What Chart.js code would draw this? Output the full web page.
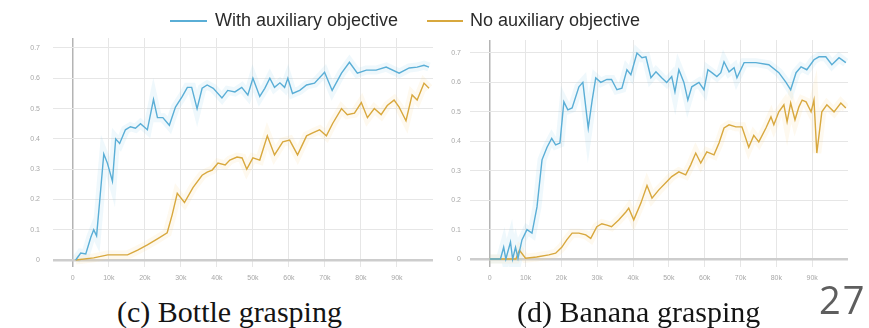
<!DOCTYPE html>
<html>
<head>
<meta charset="utf-8">
<script src="https://cdn.jsdelivr.net/npm/chart.js@4/dist/chart.umd.min.js"></script>
<style>
  html, body { margin: 0; padding: 0; background: #ffffff; }
  #page { position: relative; width: 869px; height: 328px; overflow: hidden; background: #fff; }
  canvas { position: absolute; }
  .legend-line { position: absolute; height: 2px; }
  .legend-text { position: absolute; font-family: "Liberation Sans", Arial, sans-serif; font-size: 18px; color: #2b2b2b; line-height: 18px; white-space: nowrap; }
  .caption { position: absolute; font-family: "Liberation Serif", "Times New Roman", serif; font-size: 30px; color: #141414; line-height: 30px; white-space: nowrap; }
  #pageno { position: absolute; font-family: "Open Sans", "Liberation Sans", sans-serif; font-weight: 400; font-size: 38px; letter-spacing: 2px; color: #5e5e5e; line-height: 38px; }
</style>
</head>
<body>
<div id="page">
  <canvas id="bottle" width="440" height="290" style="left:0;top:0;"></canvas>
  <canvas id="banana" width="429" height="290" style="left:440px;top:0;"></canvas>

  <div class="legend-line" style="left:170px;top:20px;width:37px;background:#5aaed6;"></div>
  <div class="legend-text" style="left:215px;top:11px;">With auxiliary objective</div>
  <div class="legend-line" style="left:427px;top:20px;width:36px;background:#d8a83e;"></div>
  <div class="legend-text" style="left:470px;top:11px;">No auxiliary objective</div>

  <div class="caption" style="left:117px;top:297px;">(c) Bottle grasping</div>
  <div class="caption" style="left:517px;top:297px;">(d) Banana grasping</div>
  <div id="pageno" style="left:819px;top:280px;">27</div>
</div>

<script>
// Training steps (thousands) and success rate, bottle grasping
const bottleStepsAux = [0.8, 2.2, 3.6, 5, 5.8, 6.6, 7.5, 8.6, 9.6, 11, 11.9, 13, 14.6, 16, 17.4, 18.8, 20.7, 22.4, 23.5, 25, 26.8, 28.5, 30.4, 31.8, 33, 34.5, 35.9, 37.3, 39, 41.4, 43, 45, 46.9, 48.6, 50, 51.9, 53.3, 54.7, 56, 57.5, 58.8, 59.7, 61, 63, 64.9, 67.1, 69.9, 72, 74.6, 76.8, 79, 81.5, 84.2, 87, 90.6, 93.4, 95.6, 97.5, 98.9];
const bottleAux = [0, 0.023, 0.02, 0.075, 0.1, 0.08, 0.2, 0.35, 0.32, 0.26, 0.40, 0.385, 0.43, 0.44, 0.435, 0.45, 0.43, 0.53, 0.47, 0.47, 0.445, 0.505, 0.54, 0.57, 0.57, 0.50, 0.567, 0.578, 0.567, 0.535, 0.56, 0.555, 0.57, 0.545, 0.60, 0.54, 0.567, 0.60, 0.57, 0.585, 0.57, 0.60, 0.55, 0.56, 0.578, 0.584, 0.62, 0.56, 0.617, 0.653, 0.617, 0.627, 0.627, 0.637, 0.617, 0.634, 0.637, 0.643, 0.637];

const bottleStepsNoAux = [0.8, 5.8, 9.7, 15.2, 18, 20.7, 23.5, 26.2, 27.6, 29, 31, 33.4, 35.9, 37.3, 38.7, 40.3, 42.3, 43.6, 45.6, 47, 48.3, 50, 51.9, 54, 56, 58.3, 60.2, 62.4, 64.9, 66.6, 68.5, 70.4, 72.1, 74.6, 76.2, 78.2, 80.1, 81.8, 83.7, 85.6, 87.3, 89.2, 90.6, 92.5, 94.2, 95.6, 97.5, 98.9];
const bottleNoAux = [0, 0.007, 0.017, 0.017, 0.033, 0.05, 0.07, 0.09, 0.15, 0.22, 0.19, 0.24, 0.28, 0.29, 0.297, 0.32, 0.314, 0.33, 0.34, 0.337, 0.30, 0.337, 0.33, 0.41, 0.347, 0.39, 0.396, 0.347, 0.41, 0.42, 0.43, 0.41, 0.45, 0.50, 0.48, 0.485, 0.52, 0.47, 0.50, 0.48, 0.51, 0.528, 0.505, 0.46, 0.545, 0.528, 0.584, 0.567];

// Training steps (thousands) and success rate, banana grasping
const bananaStepsAux = [0, 3, 3.9, 4.5, 5.8, 6.4, 7.2, 7.9, 9, 10.4, 11.8, 13.2, 14.6, 16, 17.3, 18.4, 19.6, 20.7, 21.8, 23, 24.9, 26, 27.5, 28.6, 29.6, 31, 32.7, 34, 35.5, 36.9, 38.3, 39.4, 41.1, 42.5, 43.6, 45, 46.4, 48, 49.4, 50.8, 51.7, 52.8, 54.2, 55.3, 56.4, 58.4, 59.8, 60.9, 62, 63.4, 64.5, 65.4, 66.8, 68.2, 69, 71, 74.3, 77.9, 80.7, 82.7, 84, 85.5, 86.9, 88.5, 90.5, 91.9, 93.8, 95.5, 97.5, 99.4];
const bananaAux = [0, 0, 0.04, 0, 0.058, 0, 0.04, 0.003, 0.065, 0.1, 0.088, 0.177, 0.337, 0.38, 0.41, 0.388, 0.394, 0.534, 0.507, 0.513, 0.585, 0.6, 0.445, 0.54, 0.615, 0.60, 0.61, 0.61, 0.575, 0.58, 0.643, 0.626, 0.70, 0.684, 0.687, 0.616, 0.636, 0.616, 0.60, 0.62, 0.568, 0.643, 0.60, 0.54, 0.585, 0.60, 0.575, 0.643, 0.633, 0.62, 0.633, 0.67, 0.636, 0.65, 0.616, 0.667, 0.667, 0.66, 0.633, 0.60, 0.575, 0.633, 0.653, 0.643, 0.677, 0.687, 0.687, 0.66, 0.684, 0.667];

const bananaStepsNoAux = [0, 7.3, 8.3, 10, 13.1, 16.5, 18.4, 20.1, 21.5, 23, 24.9, 26.8, 28.2, 29.9, 31.3, 32.7, 34, 36, 38, 38.8, 40.2, 42.2, 43.9, 45.3, 47.2, 49.2, 50.8, 52.8, 54.7, 56.1, 57.5, 58.9, 60.6, 62.6, 64, 65.4, 66.8, 68.7, 70.4, 72.3, 73.7, 75.1, 77.1, 78.5, 79.3, 80.7, 82.1, 83, 84, 85.2, 86.3, 87.2, 88.3, 89.7, 90.5, 91.3, 92.7, 94.1, 96.1, 98, 99.4];
const bananaNoAux = [0, 0, 0.03, 0.003, 0.007, 0.014, 0.02, 0.04, 0.065, 0.088, 0.088, 0.082, 0.07, 0.11, 0.12, 0.115, 0.11, 0.133, 0.16, 0.173, 0.133, 0.19, 0.25, 0.207, 0.235, 0.26, 0.28, 0.296, 0.286, 0.32, 0.36, 0.326, 0.364, 0.354, 0.394, 0.445, 0.456, 0.449, 0.449, 0.38, 0.42, 0.398, 0.445, 0.483, 0.456, 0.50, 0.524, 0.466, 0.53, 0.473, 0.517, 0.54, 0.534, 0.50, 0.54, 0.36, 0.50, 0.524, 0.50, 0.53, 0.513];

// Axis ticks
const stepTicks = [0, 10000, 20000, 30000, 40000, 50000, 60000, 70000, 80000, 90000];
const stepTickLabels = ['0', '10k', '20k', '30k', '40k', '50k', '60k', '70k', '80k', '90k'];
const rateTicks = [0, 0.1, 0.2, 0.3, 0.4, 0.5, 0.6, 0.7];
const rateTickLabels = ['0', '0.1', '0.2', '0.3', '0.4', '0.5', '0.6', '0.7'];

const seriesNames = ['With auxiliary objective', 'No auxiliary objective'];
const BLUE = '#5aaed6';
const ORANGE = '#d8a83e';

function points(steps, values) {
  return steps.map((s, i) => ({ x: s * 1000, y: values[i] }));
}

function lineSet(label, data, color, width, order) {
  return {
    label, data,
    borderColor: color,
    borderWidth: width,
    pointRadius: 0,
    tension: 0,
    fill: false,
    order
  };
}

function makeChart(id, aux, noAux, cfg) {
  const auxPts = points(aux[0], aux[1]);
  const noAuxPts = points(noAux[0], noAux[1]);
  return new Chart(document.getElementById(id), {
    type: 'line',
    data: {
      datasets: [
        // soft spread band drawn under each curve
        lineSet(seriesNames[0] + ' band', auxPts, 'rgba(140,205,235,0.14)', 9, 4),
        lineSet(seriesNames[1] + ' band', noAuxPts, 'rgba(245,215,140,0.14)', 9, 3),
        lineSet(seriesNames[1], noAuxPts, ORANGE, 1.4, 2),
        lineSet(seriesNames[0], auxPts, BLUE, 1.4, 1)
      ]
    },
    options: {
      responsive: false,
      animation: false,
      events: [],
      layout: { padding: { top: cfg.top, right: cfg.right, left: 0, bottom: 0 } },
      plugins: { legend: { display: false }, tooltip: { enabled: false } },
      scales: {
        x: {
          type: 'linear',
          min: -5500,
          max: 100000,
          afterBuildTicks: a => { a.ticks = stepTicks.map(v => ({ value: v })); },
          afterFit: s => { s.height = 23; },
          ticks: {
            callback: (v, i) => stepTickLabels[i],
            color: '#a8a8a8',
            font: { family: 'Liberation Sans', size: 7 },
            padding: 7,
            maxRotation: 0,
            autoSkip: false
          },
          grid: {
            drawTicks: false,
            color: c => (c.tick && c.tick.value === 0 ? '#b4b4b4' : '#e6e6e6'),
            lineWidth: c => (c.tick && c.tick.value === 0 ? 1.5 : 1)
          },
          border: { display: false }
        },
        y: {
          min: cfg.ymin,
          max: cfg.ymax,
          afterBuildTicks: a => { a.ticks = rateTicks.map(v => ({ value: v })); },
          afterFit: s => { s.width = cfg.axisWidth; },
          ticks: {
            callback: (v, i) => rateTickLabels[i],
            color: '#a8a8a8',
            font: { family: 'Liberation Sans', size: 7 },
            padding: cfg.labelPad
          },
          grid: {
            drawTicks: false,
            color: c => (c.tick && c.tick.value === 0 ? '#cdcdcd' : '#e6e6e6'),
            lineWidth: c => (c.tick && c.tick.value === 0 ? 2.5 : 1)
          },
          border: { display: false }
        }
      }
    }
  });
}

makeChart('bottle', [bottleStepsAux, bottleAux], [bottleStepsNoAux, bottleNoAux],
  { top: 38, right: 7, axisWidth: 53, labelPad: 13, ymin: -0.023, ymax: 0.733 });
makeChart('banana', [bananaStepsAux, bananaAux], [bananaStepsNoAux, bananaNoAux],
  { top: 40, right: 21, axisWidth: 30, labelPad: 9, ymin: -0.027, ymax: 0.744 });
</script>
</body>
</html>
